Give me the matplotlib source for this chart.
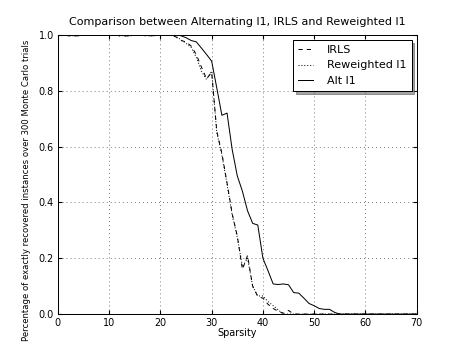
import matplotlib
matplotlib.use('Agg')
import matplotlib.pyplot as plt
import numpy as np

# sparsity levels 0..70
sparsity = list(range(0, 71))

irls = [1.0, 1.0, 0.997, 0.996, 0.997, 1.0, 1.0, 1.0, 1.0, 1.0,
        1.0, 1.0, 0.997, 0.996, 0.997, 1.0, 1.0, 0.997, 0.997, 0.997,
        1.0, 1.0, 1.0, 0.993, 0.98, 0.975, 0.96, 0.93, 0.885, 0.843,
        0.866, 0.655, 0.575, 0.47, 0.36, 0.28, 0.16, 0.21, 0.10, 0.063,
        0.057, 0.035, 0.02, 0.01, 0.003, 0.013, 0.0, 0.0, 0.0, 0.0,
        0.0, 0.0, 0.0, 0.0, 0.0, 0.0, 0.0, 0.0, 0.0, 0.0,
        0.0, 0.0, 0.0, 0.0, 0.0, 0.0, 0.0, 0.0, 0.0, 0.0, 0.0]

reweighted = [1.0, 1.0, 0.997, 0.997, 0.997, 1.0, 1.0, 1.0, 1.0, 1.0,
              1.0, 1.0, 0.997, 0.997, 0.996, 1.0, 1.0, 0.997, 0.997, 0.997,
              1.0, 1.0, 1.0, 0.995, 0.983, 0.97, 0.955, 0.92, 0.87, 0.84,
              0.87, 0.65, 0.57, 0.465, 0.355, 0.275, 0.17, 0.2, 0.10, 0.065,
              0.065, 0.045, 0.03, 0.015, 0.0, 0.0, 0.0, 0.0, 0.0, 0.0,
              0.0, 0.0, 0.0, 0.0, 0.0, 0.0, 0.0, 0.0, 0.0, 0.0,
              0.0, 0.0, 0.0, 0.0, 0.0, 0.0, 0.0, 0.0, 0.0, 0.0, 0.0]

alt_l1 = [1.0, 1.0, 1.0, 1.0, 1.0, 1.0, 1.0, 1.0, 1.0, 1.0,
          1.0, 1.0, 1.0, 1.0, 1.0, 1.0, 1.0, 1.0, 1.0, 1.0,
          1.0, 1.0, 1.0, 1.0, 0.997, 0.99, 0.98, 0.975, 0.953, 0.93,
          0.906, 0.81, 0.712, 0.72, 0.59, 0.495, 0.44, 0.37, 0.325, 0.319,
          0.2, 0.155, 0.108, 0.106, 0.108, 0.105, 0.077, 0.075, 0.057, 0.038,
          0.03, 0.02, 0.017, 0.017, 0.006, 0.0, 0.0, 0.0, 0.0, 0.0,
          0.0, 0.0, 0.0, 0.0, 0.0, 0.0, 0.0, 0.0, 0.0, 0.0, 0.0]

# old-style look, scaled down
s = 463.0 / 640.0
fs = 12 * s * 0.8
plt.rcParams['font.family'] = 'DejaVu Sans'
plt.rcParams['font.size'] = fs
plt.rcParams['lines.scale_dashes'] = False
plt.rcParams['xtick.direction'] = 'in'
plt.rcParams['ytick.direction'] = 'in'
plt.rcParams['xtick.major.size'] = 4 * s
plt.rcParams['ytick.major.size'] = 4 * s
plt.rcParams['xtick.major.pad'] = 4 * s
plt.rcParams['ytick.major.pad'] = 4 * s
plt.rcParams['axes.linewidth'] = 1.0 * s

fig = plt.figure(figsize=(4.63, 3.49), dpi=100)
ax = fig.add_axes([0.125, 0.1, 0.775, 0.8])

lw = 1.0 * s
ax.plot(sparsity, irls, color='k', lw=lw, linestyle=(0, (3, 3)), label='IRLS')
ax.plot(sparsity, reweighted, color='k', lw=lw, linestyle=(0, (0.7, 1.4)), label='Reweighted l1')
ax.plot(sparsity, alt_l1, color='k', lw=lw, linestyle='-', label='Alt l1')

ax.set_xlim(0, 70)
ax.set_ylim(0, 1.0)
ax.set_xticks(np.arange(0, 71, 10))
ax.set_yticks(np.arange(0, 1.01, 0.2))
ax.yaxis.set_major_formatter(matplotlib.ticker.FormatStrFormatter('%.1f'))
ax.tick_params(top=True, right=True, labelsize=fs)
ax.grid(True, color='k', linestyle=(0, (1 * s, 3 * s)), linewidth=0.5 * s)

ax.set_title('Comparison between Alternating l1, IRLS and Reweighted l1',
             fontsize=8.05, pad=7)
ax.set_xlabel('Sparsity', fontsize=fs, labelpad=0)
ax.set_ylabel('Percentage of exactly recovered instances over 300 Monte Carlo trials',
              fontsize=6.15)
ax.yaxis.set_label_coords(-0.075, 0.443)

leg = ax.legend(loc='upper right', fontsize=8.0, fancybox=False, shadow=True,
                framealpha=1, edgecolor='k', handlelength=1.35, handletextpad=1.3,
                labelspacing=0.5, borderpad=0.45, borderaxespad=0.45)
leg.get_frame().set_linewidth(1.0 * s)

fig.savefig('out.png', dpi=100)
